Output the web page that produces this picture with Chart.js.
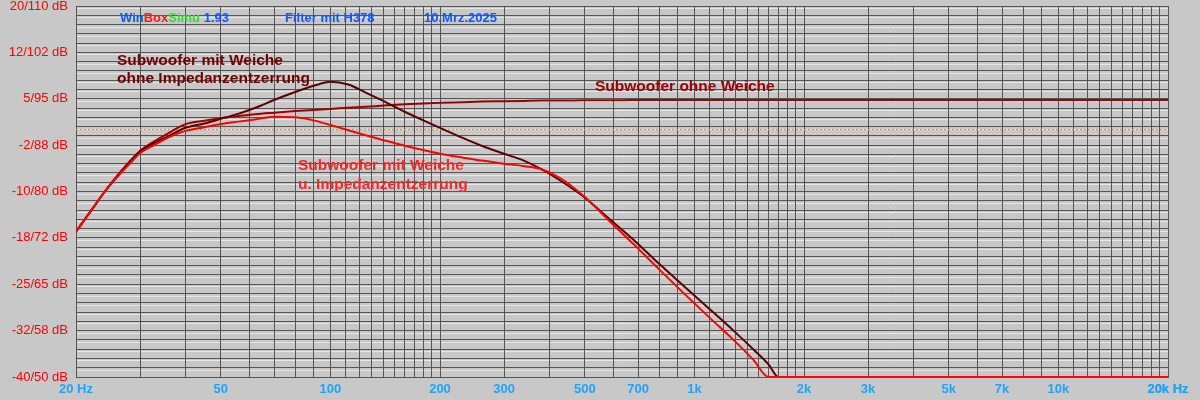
<!DOCTYPE html>
<html lang="de">
<head>
<meta charset="UTF-8">
<title>WinBoxSimu - Filter mit H378</title>
<script src="https://cdn.jsdelivr.net/npm/chart.js@4"></script>
<style>
  body { margin: 0; background: #c8c8c8; }
  #wrap { width: 1200px; height: 400px; }
</style>
</head>
<body>
<div id="wrap"><canvas id="chart"></canvas></div>
<script>
// Frequenzpunkte (Hz) und Pegel (dB)
const freqs = [20, 22, 24, 26, 28, 30, 33, 36, 40, 45, 50, 56, 62, 70, 80, 90, 100, 112, 125, 140,
               160, 180, 200, 230, 260, 300, 340, 380, 430, 500, 580, 680, 800, 940, 1100, 1280,
               1450, 1600, 1700, 2000, 5000, 20000];

const ohneWeiche = [-16.5, -13.1, -10.0, -7.4, -5.2, -3.4, -1.8, -0.5, 0.9, 1.45, 1.85, 2.2, 2.5, 2.75,
                    3.0, 3.2, 3.35, 3.55, 3.7, 3.9, 4.1, 4.25, 4.35, 4.45, 4.55, 4.6, 4.65, 4.7, 4.7,
                    4.75, 4.75, 4.8, 4.8, 4.8, 4.8, 4.8, 4.8, 4.8, 4.8, 4.8, 4.8, 4.8];

const mitWeicheOhneEntz = [-16.5, -13.1, -10.0, -7.5, -5.4, -3.6, -2.1, -1.0, 0.3, 1.0, 1.75, 2.6, 3.5,
                           4.8, 6.1, 7.1, 7.75, 7.3, 6.0, 4.6, 2.9, 1.5, 0.3, -1.3, -2.6, -3.9, -5.0,
                           -6.4, -8.3, -11.0, -14.3, -17.8, -21.7, -25.4, -29.0, -32.5, -35.5, -38.0,
                           -40, -40, -40, -40];

const mitWeicheEntz = [-16.5, -13.1, -10.0, -7.6, -5.6, -3.8, -2.4, -1.2, -0.2, 0.4, 0.9, 1.3, 1.65,
                       2.1, 2.0, 1.5, 0.75, -0.1, -0.9, -1.7, -2.6, -3.3, -3.9, -4.5, -5.0, -5.5, -5.9,
                       -6.4, -7.9, -10.9, -14.6, -18.5, -22.6, -26.6, -30.4, -34.0, -37.2, -40,
                       -40, -40, -40, -40];

// Bezugslinie 0 dB
const refFreqs = [20, 20000];
const refLevel = [0, 0];

// Achsenbeschriftung
const xLabelAt = [20, 50, 100, 200, 300, 500, 700, 1000, 2000, 3000, 5000, 7000, 10000, 20000];
const xLabelText = ['20 Hz', '50', '100', '200', '300', '500', '700', '1k', '2k', '3k', '5k', '7k', '10k', '20k Hz'];
const yLabelText = ['-40/50 dB', '-32/58 dB', '-25/65 dB', '-18/72 dB', '-10/80 dB',
                    '-2/88 dB', '5/95 dB', '12/102 dB', '20/110 dB'];

// Gitter: Dekadenraster plus Feinraster im Bereich 1..2 jeder Dekade
const xGrid = [];
for (const d of [10, 100, 1000, 10000]) {
  for (let k = 10; k < 20; k++) xGrid.push(k * d / 10);
  for (let k = 2; k < 10; k++) xGrid.push(k * d);
}
const xTicks = xGrid.filter(v => v >= 20 && v <= 20000);
xTicks.push(20000);
const yTicks = [];
for (let i = 0; i <= 40; i++) yTicks.push(-40 + i * 1.5);

function pts(xs, ys) {
  return xs.map((x, i) => ({ x: x, y: ys[i] }));
}

const textPlugin = {
  id: 'texte',
  beforeDraw(chart) {
    // helle Linie unter jeder waagerechten Gitterlinie (wird vom Gitter ueberzeichnet)
    const { ctx, chartArea: a, scales } = chart;
    ctx.save();
    ctx.strokeStyle = 'rgba(232,232,232,0.95)';
    ctx.lineWidth = 1;
    yTicks.forEach(v => {
      const y = Math.round(scales.y.getPixelForValue(v)) + 2.5;
      if (y > a.bottom) return;
      ctx.beginPath();
      ctx.moveTo(a.left, y);
      ctx.lineTo(a.right, y);
      ctx.stroke();
    });
    ctx.restore();
  },
  afterDraw(chart) {
    const ctx = chart.ctx;
    ctx.save();
    ctx.textBaseline = 'middle';
    ctx.textAlign = 'left';

    ctx.font = 'bold 13px "Liberation Sans", Arial, sans-serif';
    let x = 120;
    [['Win', '#1258ff'], ['Box', '#ff1a1a'], ['Simu', '#33dd33'], [' 1.93', '#1258ff']].forEach(s => {
      ctx.fillStyle = s[1];
      ctx.fillText(s[0], x, 18);
      x += ctx.measureText(s[0]).width;
    });
    ctx.fillStyle = '#1258ff';
    ctx.fillText('Filter mit H378', 285, 18);
    ctx.fillText('10.Mrz.2025', 424, 18);

    ctx.font = 'bold 15.5px "Liberation Sans", Arial, sans-serif';
    ctx.fillStyle = '#700000';
    ctx.fillText('Subwoofer mit Weiche', 117, 61);
    ctx.fillText('ohne Impedanzentzerrung', 117, 79);
    ctx.fillStyle = '#9a0000';
    ctx.fillText('Subwoofer ohne Weiche', 595, 87);
    ctx.fillStyle = '#f02a2a';
    ctx.fillText('Subwoofer mit Weiche', 298, 166);
    ctx.fillText('u. Impedanzentzerrung', 298, 185);
    ctx.restore();
  }
};

const gridColor = '#555555';

new Chart(document.getElementById('chart'), {
  type: 'line',
  data: {
    datasets: [
      {
        label: 'Subwoofer mit Weiche u. Impedanzentzerrung',
        data: pts(freqs, mitWeicheEntz),
        borderColor: '#ff0000',
        borderWidth: 2,
        cubicInterpolationMode: 'monotone'
      },
      {
        label: 'Subwoofer mit Weiche ohne Impedanzentzerrung',
        data: pts(freqs, mitWeicheOhneEntz),
        borderColor: '#5a0000',
        borderWidth: 2,
        cubicInterpolationMode: 'monotone'
      },
      {
        label: 'Subwoofer ohne Weiche',
        data: pts(freqs, ohneWeiche),
        borderColor: '#9e0000',
        borderWidth: 2,
        cubicInterpolationMode: 'monotone'
      },
      {
        label: '0 dB',
        data: pts(refFreqs, refLevel),
        borderColor: '#ff8c1a',
        borderWidth: 1.2,
        borderDash: [2, 2],
        order: 10
      }
    ]
  },
  options: {
    responsive: true,
    maintainAspectRatio: false,
    animation: false,
    elements: { point: { radius: 0 } },
    layout: { padding: { top: 6, right: 32, left: 0, bottom: 0 } },
    plugins: { legend: { display: false }, tooltip: { enabled: false } },
    scales: {
      x: {
        type: 'logarithmic',
        min: 20,
        max: 20000,
        afterBuildTicks: s => { s.ticks = xTicks.map(v => ({ value: v })); },
        afterFit: s => { s.height = 23; s.paddingLeft = 0; s.paddingRight = 0; },
        grid: { color: gridColor, lineWidth: 1, drawTicks: false },
        border: { color: gridColor },
        ticks: {
          autoSkip: false,
          maxRotation: 0,
          padding: 5,
          color: '#1ea4ff',
          font: { family: '"Liberation Sans", Arial, sans-serif', size: 13, weight: 'bold' },
          callback: v => {
            const i = xLabelAt.indexOf(v);
            return i < 0 ? '' : xLabelText[i];
          }
        }
      },
      y: {
        type: 'linear',
        min: -40,
        max: 20,
        afterBuildTicks: s => { s.ticks = yTicks.map(v => ({ value: v })); },
        afterFit: s => { s.width = 76; s.paddingTop = 0; s.paddingBottom = 0; },
        grid: { color: gridColor, lineWidth: 1, drawTicks: false },
        border: { color: gridColor },
        ticks: {
          autoSkip: false,
          padding: 8,
          color: '#ff0000',
          font: { family: '"Liberation Sans Narrow", "Liberation Sans", Arial, sans-serif', size: 13 },
          callback: (v, i) => (i % 5 === 0 ? yLabelText[i / 5] : '')
        }
      }
    }
  },
  plugins: [textPlugin]
});
</script>
</body>
</html>
